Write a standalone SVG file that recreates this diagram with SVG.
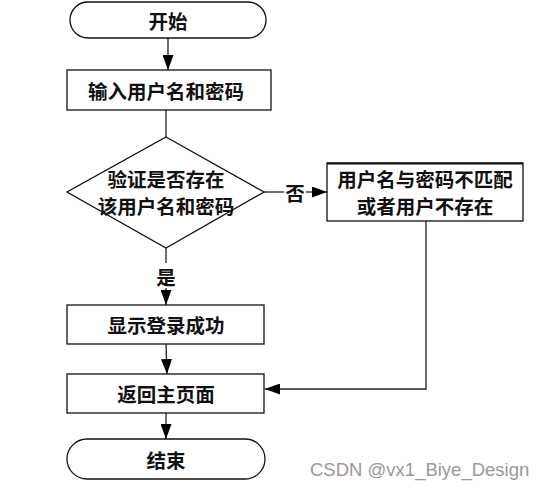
<svg xmlns="http://www.w3.org/2000/svg" width="542" height="488" viewBox="0 0 542 488">
<style>
.box{fill:#fff;stroke:#111;stroke-width:1.3}
.t{font-family:"Noto Sans CJK SC","Noto Sans CJK JP",sans-serif;font-size:19.5px;font-weight:bold;fill:#111;text-anchor:middle;dominant-baseline:central}
.ln{fill:none;stroke:#222;stroke-width:1.3}
</style>
<defs>
<marker id="ah" markerWidth="15" markerHeight="11" refX="15" refY="5.5" orient="auto" markerUnits="userSpaceOnUse">
<path d="M0,0 L15,5.5 L0,11 Z" fill="#000"/>
</marker>
</defs>
<rect width="542" height="488" fill="#fff"/>
<g id="connectors">
<line class="ln" x1="168" y1="38" x2="168" y2="70" marker-end="url(#ah)"/>
<line class="ln" x1="166" y1="110" x2="166" y2="137"/>
<line class="ln" x1="264" y1="192" x2="284" y2="192"/>
<line class="ln" x1="306" y1="192" x2="327" y2="192" marker-end="url(#ah)"/>
<line class="ln" x1="166" y1="248" x2="166" y2="263"/>
<line class="ln" x1="166" y1="288" x2="166" y2="305" marker-end="url(#ah)"/>
<line class="ln" x1="166" y1="344" x2="167" y2="374" marker-end="url(#ah)"/>
<polyline class="ln" points="426,221 426,389 265,389" marker-end="url(#ah)"/>
<line class="ln" x1="166" y1="413" x2="166" y2="439" marker-end="url(#ah)"/>
<text class="t" x="295" y="192">否</text>
<text class="t" x="166" y="276">是</text>
</g>
<g id="start">
<rect class="box" x="70" y="2" width="196" height="36" rx="18" ry="18"/>
<text class="t" x="168" y="20">开始</text>
</g>
<g id="input">
<rect class="box" x="67" y="70" width="204" height="40"/>
<text class="t" x="166" y="90">输入用户名和密码</text>
</g>
<g id="verify">
<polygon class="box" points="166,137 264,192 166,248 67,192"/>
<text class="t" x="166" y="178">验证是否存在</text>
<text class="t" x="166" y="205">该用户名和密码</text>
</g>
<g id="mismatch">
<rect class="box" x="327" y="163" width="196" height="58"/>
<line x1="327" y1="163.5" x2="523" y2="163.5" stroke="#111" stroke-width="2"/>
<text class="t" x="425" y="178">用户名与密码不匹配</text>
<text class="t" x="425" y="205">或者用户不存在</text>
</g>
<g id="success">
<rect class="box" x="67" y="305" width="197" height="39"/>
<text class="t" x="166" y="324">显示登录成功</text>
</g>
<g id="home">
<rect class="box" x="67" y="374" width="197" height="39"/>
<text class="t" x="166" y="393">返回主页面</text>
</g>
<g id="end">
<rect class="box" x="67" y="439" width="198" height="40" rx="20" ry="20"/>
<text class="t" x="166" y="459">结束</text>
</g>
<text x="310" y="476" font-family="'Liberation Sans',sans-serif" font-size="18.5" fill="#999">CSDN @vx1_Biye_Design</text>
</svg>
